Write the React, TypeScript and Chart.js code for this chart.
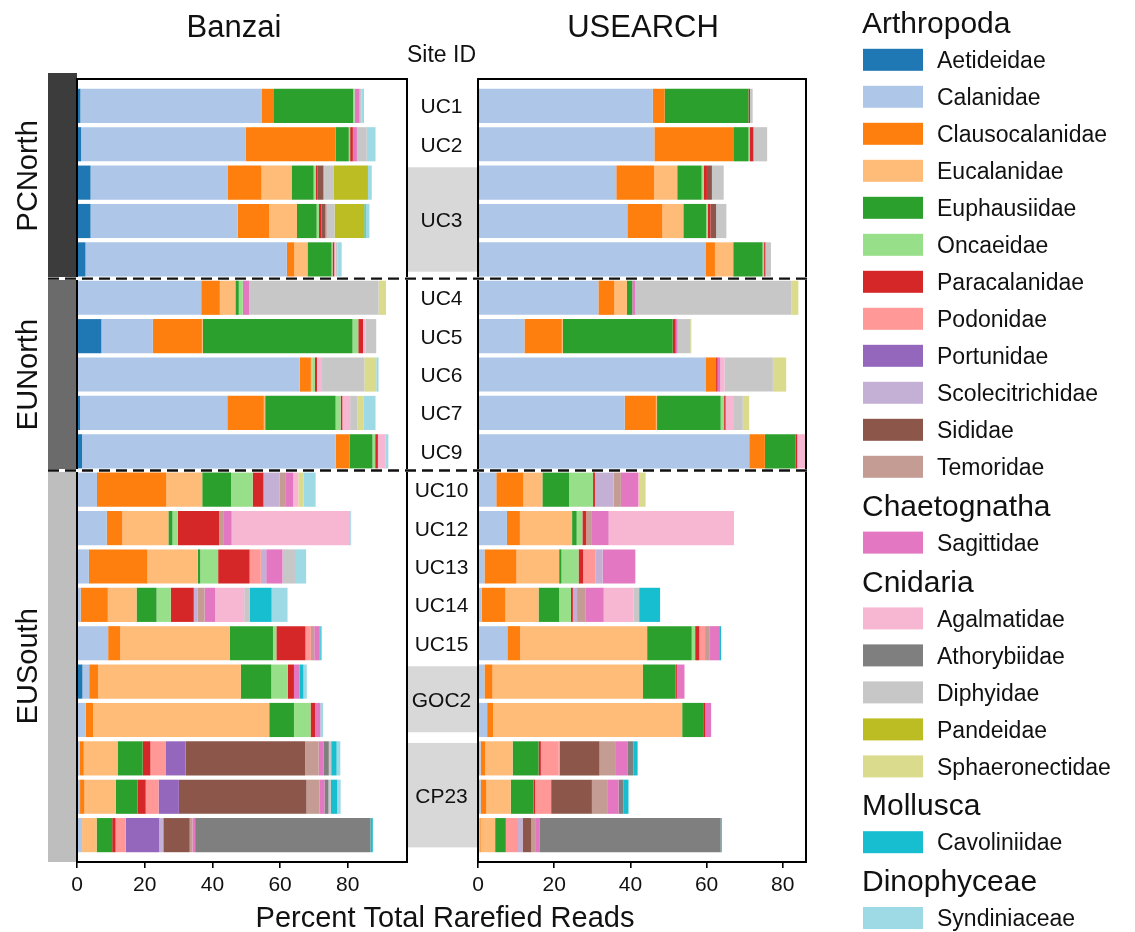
import React, { useEffect, useRef } from "react";
import { Chart, registerables } from "chart.js";

Chart.register(...registerables);

const FONT = '"Liberation Sans", Arial, Helvetica, sans-serif';
const INK = "#111111";

// ---------------- categories ----------------
const families = [
  "Aetideidae", "Calanidae", "Clausocalanidae", "Eucalanidae", "Euphausiidae",
  "Oncaeidae", "Paracalanidae", "Podonidae", "Portunidae", "Scolecitrichidae",
  "Sididae", "Temoridae", "Sagittidae", "Agalmatidae", "Athorybiidae",
  "Diphyidae", "Pandeidae", "Sphaeronectidae", "Cavoliniidae", "Syndiniaceae",
];
const familyColors = [
  "#1f77b4", "#aec7e8", "#ff7f0e", "#ffbb78", "#2ca02c",
  "#98df8a", "#d62728", "#ff9896", "#9467bd", "#c5b0d5",
  "#8c564b", "#c49c94", "#e377c2", "#f7b6d2", "#7f7f7f",
  "#c7c7c7", "#bcbd22", "#dbdb8d", "#17becf", "#9edae5",
];
const phyla = ["Arthropoda", "Chaetognatha", "Cnidaria", "Mollusca", "Dinophyceae"];
const phylumSizes = [12, 1, 5, 1, 1];

const rowSites = [
  "UC1", "UC2", "UC3", "UC3", "UC3",
  "UC4", "UC5", "UC6", "UC7", "UC9",
  "UC10", "UC12", "UC13", "UC14", "UC15",
  "GOC2", "GOC2", "CP23", "CP23", "CP23",
];
const rowRegions = [
  "PCNorth", "PCNorth", "PCNorth", "PCNorth", "PCNorth",
  "EUNorth", "EUNorth", "EUNorth", "EUNorth", "EUNorth",
  "EUSouth", "EUSouth", "EUSouth", "EUSouth", "EUSouth",
  "EUSouth", "EUSouth", "EUSouth", "EUSouth", "EUSouth",
];
const regionColors = ["#3c3c3c", "#6b6b6b", "#bebebe"];

const panelTitles = ["Banzai", "USEARCH"];
const xAxisTitle = "Percent Total Rarefied Reads";
const siteAxisTitle = "Site ID";
const X_TICK_STEP = 20;
const BANZAI_X_MAX = 97.5;
const USEARCH_X_MAX = 86.1;

// ---------------- values (percent, in family order) ----------------
// Banzai
const bzUC1 = [1.0, 53.5, 3.7, 0, 23.4, 0.4, 0, 0, 0, 0, 0, 0, 1.5, 0, 0, 0.6, 0, 0, 0, 0.7];
const bzUC2 = [1.2, 48.7, 26.5, 0, 3.9, 0.4, 0.8, 0, 0, 0, 0, 0, 1.2, 0, 0, 2.9, 0, 0, 0, 2.6];
const bzUC3a = [4.0, 40.6, 9.9, 8.9, 6.5, 0.7, 0.5, 0, 0, 0, 1.6, 0.3, 0, 0, 0, 2.9, 9.8, 0, 0.2, 1.2];
const bzUC3b = [4.0, 43.5, 9.3, 8.2, 5.8, 0.7, 0.7, 0, 0, 0, 1.2, 0.4, 0, 0, 0, 2.3, 8.8, 0, 0.4, 1.1];
const bzUC3c = [2.5, 59.5, 2.2, 3.9, 7.1, 0.3, 0.5, 0, 0, 0, 0, 0, 0, 0.4, 0, 0.6, 0, 0, 0, 1.2];
const bzUC4 = [0, 36.7, 5.5, 4.6, 1.0, 1.2, 0, 0, 0, 0, 0, 0, 1.9, 0, 0, 38.2, 0, 2.2, 0, 0];
const bzUC5 = [7.2, 15.2, 14.5, 0.3, 44.2, 1.7, 1.4, 0, 0, 0, 0, 0, 0, 0.7, 0, 3.2, 0, 0, 0, 0];
const bzUC6 = [0.2, 65.6, 3.3, 0.4, 0, 0.8, 0.6, 0, 0, 0, 0, 0, 0, 1.5, 0, 12.5, 0, 3.5, 0, 0.7];
const bzUC7 = [0.9, 43.5, 10.8, 0.4, 20.8, 1.5, 0.5, 0, 0, 0, 0, 0, 0, 2.3, 0, 2.1, 0, 1.8, 0, 3.6];
const bzUC9 = [1.5, 74.9, 4.1, 0, 6.8, 0.8, 0.8, 0, 0, 0, 0, 0, 0, 2.3, 0, 0, 0, 0, 0, 0.8];
const bzUC10 = [0, 5.9, 20.5, 10.6, 8.5, 6.4, 3.2, 0, 0, 4.7, 0, 1.7, 2.4, 1.5, 0, 0, 0, 1.5, 0, 3.6];
const bzUC12 = [0, 8.8, 4.6, 13.6, 1.2, 1.6, 12.2, 0, 0, 0, 0, 1.4, 2.3, 35.0, 0, 0, 0, 0, 0, 0.3];
const bzUC13 = [0, 3.5, 17.3, 14.9, 0.7, 5.3, 9.3, 3.3, 0, 1.6, 0, 0, 4.8, 0, 0, 3.7, 0, 0, 0, 3.3];
const bzUC14 = [0, 1.1, 8.0, 8.5, 5.9, 4.2, 6.8, 0, 0, 1.2, 0, 2.0, 3.1, 8.6, 0, 1.7, 0, 0, 6.4, 4.7];
const bzUC15 = [0, 9.2, 3.6, 32.4, 12.7, 1.0, 8.6, 1.6, 0, 0, 0, 1.0, 1.5, 0, 0, 0, 0, 0, 0.4, 0.4];
const bzGOC2a = [1.6, 2.0, 2.6, 42.2, 9.0, 4.9, 1.8, 0, 0, 0, 0, 0, 1.6, 0, 0, 0, 0, 0, 1.2, 1.0];
const bzGOC2b = [0, 2.6, 2.2, 52.0, 7.3, 4.9, 1.4, 0, 0, 0, 0, 0, 1.5, 0, 0, 0, 0, 0, 0, 0.8];
const bzCP23a = [0, 0.8, 1.2, 10.0, 7.4, 0, 2.3, 4.6, 5.8, 0, 35.3, 4.0, 1.4, 0, 1.6, 0.7, 0, 0, 1.6, 1.1];
const bzCP23b = [0, 0.9, 1.3, 9.3, 6.4, 0, 2.4, 3.8, 6.0, 0, 37.7, 3.9, 1.4, 0, 1.2, 0.7, 0, 0, 1.9, 1.0];
const bzCP23c = [0, 1.5, 0, 4.3, 4.6, 0, 1.0, 3.0, 9.9, 1.2, 7.8, 0.8, 0.8, 0, 51.8, 0, 0, 0, 0.7, 0];

// USEARCH
const usUC1 = [0.3, 45.6, 3.1, 0, 22.0, 0, 0.4, 0, 0, 0, 0, 0, 0, 0, 0, 0.7, 0, 0, 0, 0];
const usUC2 = [0.3, 46.0, 20.9, 0, 3.8, 0.3, 1.0, 0, 0, 0, 0, 0, 0, 0, 0, 3.6, 0, 0, 0, 0];
const usUC3a = [0.3, 36.0, 9.9, 6.1, 6.4, 0.6, 0.8, 0, 0, 0, 1.3, 0, 0, 0, 0, 3.1, 0, 0, 0, 0];
const usUC3b = [0.3, 38.9, 9.2, 5.5, 6.0, 0.4, 0.7, 0, 0, 0, 1.5, 0, 0, 0, 0, 2.7, 0, 0, 0, 0];
const usUC3c = [0.3, 59.4, 2.5, 4.8, 7.7, 0.3, 0.3, 0, 0, 0, 0, 0.3, 0, 0, 0, 1.3, 0, 0, 0, 0];
const usUC4 = [0, 31.6, 4.2, 3.3, 1.4, 0, 0, 0, 0, 0, 0, 0, 0.8, 0, 0, 40.9, 0, 1.9, 0, 0];
const usUC5 = [0, 12.2, 9.8, 0.3, 28.8, 0, 0.8, 0, 0, 0, 0, 0, 0.5, 0, 0, 3.3, 0, 0.3, 0, 0];
const usUC6 = [0, 59.7, 2.8, 0, 0, 0, 0.4, 0, 0, 0, 0, 0, 0.7, 1.1, 0, 12.7, 0, 3.5, 0, 0];
const usUC7 = [0, 38.5, 8.2, 0.3, 16.7, 0.9, 0.4, 0, 0, 0, 0, 0, 0, 2.2, 0, 2.3, 0, 1.7, 0, 0];
const usUC9 = [0, 71.2, 4.1, 0, 8.1, 0, 0.4, 0, 0, 0, 0, 0, 0, 2.4, 0, 0, 0, 0, 0, 0];
const usUC10 = [0, 4.8, 7.1, 5.0, 7.0, 6.3, 0.5, 0, 0, 4.9, 0, 1.9, 4.5, 0.5, 0, 0, 0, 1.5, 0, 0];
const usUC12 = [0, 7.6, 3.4, 13.7, 1.2, 1.5, 1.0, 0, 0, 0, 0, 1.5, 4.4, 32.9, 0, 0, 0, 0, 0, 0];
const usUC13 = [0, 1.7, 8.4, 11.2, 0.6, 4.5, 1.2, 3.3, 0, 1.8, 0, 0, 8.6, 0, 0, 0, 0, 0, 0, 0];
const usUC14 = [0, 1.0, 6.2, 8.7, 5.4, 3.1, 0.5, 0, 0, 1.1, 0, 2.3, 4.7, 7.8, 0, 1.5, 0, 0, 5.5, 0];
const usUC15 = [0, 7.7, 3.4, 33.3, 11.7, 0.9, 1.1, 1.5, 0, 0, 0, 1.1, 2.6, 0, 0, 0, 0, 0, 0.5, 0];
const usGOC2a = [0, 1.7, 2.1, 39.5, 8.6, 0, 0.3, 0, 0, 0, 0, 0, 2.0, 0, 0, 0, 0, 0, 0, 0];
const usGOC2b = [0, 2.4, 1.6, 49.6, 5.7, 0, 0.4, 0, 0, 0, 0, 0, 1.5, 0, 0, 0, 0, 0, 0, 0];
const usCP23a = [0, 0.7, 1.2, 7.2, 6.8, 0, 0.6, 4.7, 0, 0.2, 10.5, 4.1, 3.2, 0, 1.6, 0, 0, 0, 1.1, 0];
const usCP23b = [0, 0.7, 1.5, 6.4, 6.0, 0, 0.4, 4.2, 0, 0, 10.7, 4.2, 2.8, 0, 1.3, 0, 0, 0, 1.3, 0];
const usCP23c = [0, 0.4, 0.3, 3.8, 2.8, 0, 0, 3.2, 0, 1.2, 2.3, 1.0, 1.1, 0, 47.6, 0, 0, 0, 0.3, 0];

const banzaiRows = [
  bzUC1, bzUC2, bzUC3a, bzUC3b, bzUC3c, bzUC4, bzUC5, bzUC6, bzUC7, bzUC9,
  bzUC10, bzUC12, bzUC13, bzUC14, bzUC15, bzGOC2a, bzGOC2b, bzCP23a, bzCP23b, bzCP23c,
];
const usearchRows = [
  usUC1, usUC2, usUC3a, usUC3b, usUC3c, usUC4, usUC5, usUC6, usUC7, usUC9,
  usUC10, usUC12, usUC13, usUC14, usUC15, usGOC2a, usGOC2b, usCP23a, usCP23b, usCP23c,
];

// ---------------- layout ----------------
const W = 1135;
const H = 932;
const PLOT_TOP = 79;
const PLOT_BOTTOM = 862;
const AXIS_H = 70;
const PANEL_A = { left: 77, right: 407 };
const PANEL_B = { left: 478, right: 806 };
const BAND_LEFT = 48;

type Run = { name: string; start: number; end: number };
function runs(labels: string[]): Run[] {
  const out: Run[] = [];
  labels.forEach((l, i) => {
    const last = out[out.length - 1];
    if (last && last.name === l) last.end = i;
    else out.push({ name: l, start: i, end: i });
  });
  return out;
}

function txt(
  ctx: CanvasRenderingContext2D, s: string, x: number, y: number, size: number,
  align: CanvasTextAlign = "center", baseline: CanvasTextBaseline = "alphabetic"
) {
  ctx.save();
  ctx.font = `${size}px ${FONT}`;
  ctx.fillStyle = INK;
  ctx.textAlign = align;
  ctx.textBaseline = baseline;
  ctx.fillText(s, x, y);
  ctx.restore();
}

function drawBox(ctx: CanvasRenderingContext2D, a: any) {
  ctx.save();
  ctx.strokeStyle = "#000";
  ctx.lineWidth = 2;
  ctx.strokeRect(a.left, a.top, a.right - a.left, a.bottom - a.top);
  ctx.restore();
}

const panelAPlugin = {
  id: "panelA",
  afterDraw(chart: any) {
    const { ctx, chartArea: a } = chart;
    const y = chart.scales.y;
    const regs = runs(rowRegions);
    regs.forEach((g, k) => {
      const top = k === 0 ? a.top - 6 : y.getPixelForValue(g.start - 0.5);
      const bottom = k === regs.length - 1 ? a.bottom : y.getPixelForValue(g.end + 0.5);
      ctx.save();
      ctx.fillStyle = regionColors[k];
      ctx.fillRect(BAND_LEFT, top, a.left - BAND_LEFT, bottom - top);
      ctx.translate(37, (top + bottom) / 2);
      ctx.rotate(-Math.PI / 2);
      txt(ctx, g.name, 0, 0, 29, "center", "alphabetic");
      ctx.restore();
    });
    drawBox(ctx, a);
    txt(ctx, panelTitles[0], 234, 37, 31);
  },
};

const LEG_X = 863;
const LEG_TEXT_X = 937;
const ITEM_PITCH = 37;
const HEADER_TO_ITEM = 26.8;
const ITEM_TO_HEADER = 49;

const panelBPlugin = {
  id: "panelB",
  afterDraw(chart: any) {
    const { ctx, chartArea: a } = chart;
    const y = chart.scales.y;

    // site id column
    const colL = PANEL_A.right + 1;
    const colR = a.left - 1;
    const colC = (PANEL_A.right + a.left) / 2 - 1;
    runs(rowSites).forEach((g) => {
      let cy = y.getPixelForValue((g.start + g.end) / 2);
      if (g.end > g.start) {
        const t = y.getPixelForValue(g.start - 0.4);
        const b = y.getPixelForValue(g.end + 0.32);
        ctx.save();
        ctx.fillStyle = "#d8d8d8";
        ctx.fillRect(colL, t, colR - colL, b - t);
        ctx.restore();
        cy = (t + b) / 2;
      }
      txt(ctx, g.name, colC, cy + 7.5, 21);
    });
    txt(ctx, siteAxisTitle, colC, 62, 23);

    drawBox(ctx, a);
    txt(ctx, panelTitles[1], 643, 37, 31);

    // x-axis title (shared)
    txt(ctx, xAxisTitle, 445, 927, 29);

    // legend
    let cursor = 33;
    let fi = 0;
    phyla.forEach((p, gi) => {
      if (gi > 0) cursor += ITEM_TO_HEADER;
      txt(ctx, p, LEG_X - 1, cursor, 30, "left");
      cursor += HEADER_TO_ITEM;
      for (let m = 0; m < phylumSizes[gi]; m++) {
        if (m > 0) cursor += ITEM_PITCH;
        ctx.save();
        ctx.fillStyle = familyColors[fi];
        ctx.fillRect(LEG_X, cursor - 11, 60, 22);
        ctx.restore();
        txt(ctx, families[fi], LEG_TEXT_X, cursor + 8.2, 23, "left");
        fi++;
      }
    });

    // dashed region separators across the whole figure
    runs(rowRegions).forEach((g, k) => {
      if (k === 0) return;
      const yy = y.getPixelForValue(g.start - 0.5);
      ctx.save();
      ctx.strokeStyle = "#ffffff";
      ctx.lineWidth = 3;
      ctx.beginPath();
      ctx.moveTo(BAND_LEFT, yy);
      ctx.lineTo(a.right + 2, yy);
      ctx.stroke();
      ctx.strokeStyle = "#111";
      ctx.lineWidth = 2.4;
      ctx.setLineDash([11, 6]);
      ctx.beginPath();
      ctx.moveTo(BAND_LEFT, yy);
      ctx.lineTo(a.right + 2, yy);
      ctx.stroke();
      ctx.restore();
    });
  },
};

function makeConfig(rows: number[][], xMax: number, panel: { left: number; right: number }, plugin: any): any {
  return {
    type: "bar",
    data: {
      datasets: families.map((name, f) => ({
        label: name,
        data: rows.map((r, i) => ({ x: r[f], y: i })),
        backgroundColor: familyColors[f],
        borderWidth: 0,
        barPercentage: 0.89,
        categoryPercentage: 1,
      })),
    },
    options: {
      responsive: false,
      animation: false,
      events: [],
      indexAxis: "y",
      layout: {
        padding: {
          left: panel.left,
          right: W - panel.right,
          top: PLOT_TOP,
          bottom: H - PLOT_BOTTOM - AXIS_H,
        },
      },
      plugins: {
        legend: { display: false },
        tooltip: { enabled: false },
        title: { display: false },
      },
      scales: {
        x: {
          type: "linear",
          stacked: true,
          min: 0,
          max: xMax,
          offset: false,
          position: "bottom",
          grid: { offset: false, drawOnChartArea: false, drawTicks: true, tickLength: 6, color: "#000", lineWidth: 1.6 },
          border: { display: false },
          ticks: {
            stepSize: X_TICK_STEP,
            includeBounds: false,
            autoSkip: false,
            maxRotation: 0,
            color: INK,
            padding: 5,
            font: { family: FONT, size: 21 },
          },
          afterFit: (s: any) => {
            s.height = AXIS_H;
          },
        },
        y: {
          type: "linear",
          stacked: true,
          min: -0.7,
          max: rows.length - 0.3,
          reverse: true,
          offset: false,
          grid: { offset: false },
          display: false,
          ticks: { stepSize: 1, includeBounds: false },
        },
      },
    },
    plugins: [plugin],
  };
}

export default function App() {
  const refA = useRef<HTMLCanvasElement>(null);
  const refB = useRef<HTMLCanvasElement>(null);
  useEffect(() => {
    const a = new Chart(refA.current as HTMLCanvasElement, makeConfig(banzaiRows, BANZAI_X_MAX, PANEL_A, panelAPlugin));
    const b = new Chart(refB.current as HTMLCanvasElement, makeConfig(usearchRows, USEARCH_X_MAX, PANEL_B, panelBPlugin));
    return () => {
      a.destroy();
      b.destroy();
    };
  }, []);
  const cs: React.CSSProperties = { position: "absolute", left: 0, top: 0, width: W, height: H };
  return (
    <div style={{ position: "fixed", left: 0, top: 0, width: W, height: H, background: "#fff", overflow: "hidden" }}>
      <canvas ref={refA} width={W} height={H} style={cs} />
      <canvas ref={refB} width={W} height={H} style={cs} />
    </div>
  );
}
